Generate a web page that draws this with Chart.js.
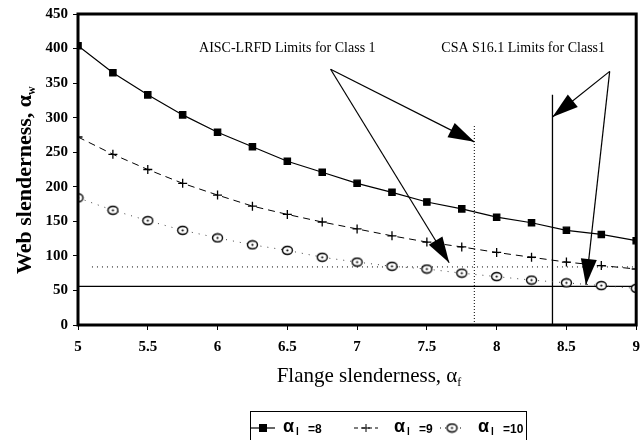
<!DOCTYPE html>
<html>
<head>
<meta charset="utf-8">
<script src="https://cdn.jsdelivr.net/npm/chart.js@4.4.1/dist/chart.umd.min.js"></script>
<style>
  html, body { margin: 0; padding: 0; background: #fff; }
  #wrap { width: 642px; height: 440px; }
</style>
</head>
<body>
<div id="wrap"><canvas id="slenderChart" width="642" height="440"></canvas></div>
<script>
// flange slenderness (x) and web slenderness limits for each alpha_l
const flangeSlenderness = [5, 5.25, 5.5, 5.75, 6, 6.25, 6.5, 6.75, 7, 7.25, 7.5, 7.75, 8, 8.25, 8.5, 8.75, 9];
const webAlpha8  = [404, 365, 333, 304, 279, 258, 237, 221, 205, 192, 178, 168, 156, 148, 137, 131, 122];
const webAlpha9  = [272, 247, 225, 205, 188, 172, 160, 149, 139, 129, 120, 113, 105, 98, 91, 86, 81];
const webAlpha10 = [184, 166, 151, 137, 126, 116, 108, 98, 91, 85, 81, 75, 70, 65, 61, 57, 53];
const seriesNames = ["8", "9", "10"];

// code limit lines (data units)
const webLimitSolid = 56;
const webLimitDotted = 84;
const aiscFlangeLimit = [7.84, 289];   // x, top y
const csaFlangeLimit = [8.4, 333];

// callouts: [fromX, fromY, toX, toY]
const aiscArrows = [[6.81, 370, 7.84, 265], [6.81, 370, 7.66, 90]];
const csaArrows = [[8.81, 367, 8.4, 301], [8.81, 367, 8.64, 58]];
const notes = [
  { text: "AISC-LRFD Limits for Class 1", x: 6.5, y: 401 },
  { text: "CSA S16.1 Limits for Class1", x: 8.19, y: 401 }
];

function pts(ys) { return flangeSlenderness.map((f, i) => ({ x: f, y: ys[i] })); }

function circleDot() {
  const c = document.createElement("canvas");
  c.width = 13; c.height = 11;
  const g = c.getContext("2d");
  g.fillStyle = "#fff"; g.strokeStyle = "#000"; g.lineWidth = 1.4;
  g.beginPath(); g.ellipse(6.5, 5.5, 5, 4, 0, 0, Math.PI * 2); g.fill(); g.stroke();
  g.fillStyle = "#000"; g.beginPath(); g.arc(6.5, 5.5, 1.1, 0, Math.PI * 2); g.fill();
  return c;
}
const circleImg = circleDot();

function refLine(data, dash, width) {
  return { data, borderColor: "#000", borderWidth: width || 1, borderDash: dash || [], pointRadius: 0, fill: false };
}

const datasets = [
  { data: pts(webAlpha8), borderColor: "#000", borderWidth: 1.2, pointStyle: "rect", pointRadius: 4.5,
    pointBackgroundColor: "#000", pointBorderColor: "#000", fill: false },
  { data: pts(webAlpha9), borderColor: "#000", borderWidth: 1, borderDash: [7, 5], pointStyle: "cross", pointRadius: 4.5,
    pointBorderColor: "#000", pointBorderWidth: 1.3, fill: false },
  { data: pts(webAlpha10), borderColor: "#444", borderWidth: 1, borderDash: [1, 6], pointStyle: circleImg,
    fill: false },
  refLine([{ x: 5, y: webLimitSolid }, { x: 9, y: webLimitSolid }], [], 1.2),
  refLine([{ x: 5.1, y: webLimitDotted }, { x: 9, y: webLimitDotted }], [1, 4], 1),
  refLine([{ x: aiscFlangeLimit[0], y: 0 }, { x: aiscFlangeLimit[0], y: aiscFlangeLimit[1] }], [1, 2], 1),
  refLine([{ x: csaFlangeLimit[0], y: 0 }, { x: csaFlangeLimit[0], y: csaFlangeLimit[1] }], [], 1.3)
];
aiscArrows.concat(csaArrows).forEach(a => {
  const ds = refLine([{ x: a[0], y: a[1] }, { x: a[2], y: a[3] }], [], 1.2);
  ds.arrow = true;
  datasets.push(ds);
});

const arrowHeads = {
  id: "arrowHeads",
  afterDatasetsDraw(chart) {
    const { ctx, scales: { x, y } } = chart;
    ctx.save();
    ctx.fillStyle = "#000";
    chart.data.datasets.forEach(ds => {
      if (!ds.arrow) return;
      const x0 = x.getPixelForValue(ds.data[0].x), y0 = y.getPixelForValue(ds.data[0].y);
      const x1 = x.getPixelForValue(ds.data[1].x), y1 = y.getPixelForValue(ds.data[1].y);
      ctx.save();
      ctx.translate(x1, y1);
      ctx.rotate(Math.atan2(y1 - y0, x1 - x0));
      ctx.beginPath(); ctx.moveTo(0, 0); ctx.lineTo(-26, -8); ctx.lineTo(-26, 8); ctx.closePath(); ctx.fill();
      ctx.restore();
    });
    ctx.restore();
  }
};

const decorations = {
  id: "decorations",
  afterDraw(chart) {
    const { ctx, chartArea: a, scales: { x, y } } = chart;
    ctx.save();
    // frame
    ctx.strokeStyle = "#000"; ctx.lineWidth = 3;
    ctx.strokeRect(a.left, a.top, a.right - a.left, a.bottom - a.top);

    // notes
    ctx.fillStyle = "#000";
    ctx.font = "14px 'Liberation Serif'";
    ctx.textAlign = "center"; ctx.textBaseline = "middle";
    notes.forEach(n => ctx.fillText(n.text, x.getPixelForValue(n.x), y.getPixelForValue(n.y)));

    // x title
    const xt = "Flange slenderness, ";
    ctx.font = "21px 'Liberation Serif'";
    ctx.textAlign = "left"; ctx.textBaseline = "alphabetic";
    let w = ctx.measureText(xt + "α").width + 6;
    let sx = 370 - w / 2;
    ctx.fillText(xt + "α", sx, 382);
    ctx.font = "12px 'Liberation Serif'";
    ctx.fillText("f", sx + w - 6, 386);

    // y title
    ctx.save();
    ctx.translate(31, 180);
    ctx.rotate(-Math.PI / 2);
    const yt = "Web slenderness, ";
    ctx.font = "bold 22px 'Liberation Serif'";
    w = ctx.measureText(yt + "α").width + 9;
    ctx.fillText(yt + "α", -w / 2, 0);
    ctx.font = "bold 12px 'Liberation Serif'";
    ctx.fillText("w", -w / 2 + w - 9, 4);
    ctx.restore();

    // legend
    ctx.lineWidth = 1;
    ctx.strokeRect(250.5, 411.5, 276, 40);
    const items = [[263, 283], [366, 394], [452, 478]];
    const cy = 428;
    items.forEach((it, i) => {
      const cx = it[0];
      ctx.save();
      ctx.lineWidth = 1.2;
      if (i === 1) ctx.setLineDash([4, 3]);
      if (i === 2) ctx.setLineDash([1, 4]);
      ctx.beginPath(); ctx.moveTo(cx - 12, cy); ctx.lineTo(cx + 12, cy); ctx.stroke();
      ctx.restore();
      if (i === 0) ctx.fillRect(cx - 4, cy - 4, 8, 8);
      if (i === 1) { ctx.beginPath(); ctx.moveTo(cx - 4, cy); ctx.lineTo(cx + 4, cy); ctx.moveTo(cx, cy - 4); ctx.lineTo(cx, cy + 4); ctx.stroke(); }
      if (i === 2) ctx.drawImage(circleImg, cx - 6.5, cy - 5.5);
      ctx.font = "bold 18px 'Liberation Sans'";
      ctx.fillText("α", it[1], cy + 4);
      ctx.font = "bold 10px 'Liberation Sans'";
      ctx.fillText("l", it[1] + 13, cy + 7);
      ctx.font = "bold 12px 'Liberation Sans'";
      ctx.fillText("=" + seriesNames[i], it[1] + 25, cy + 5);
    });
    ctx.restore();
  }
};

const tickFont = { family: "'Liberation Serif'", size: 15, weight: "bold" };

new Chart(document.getElementById("slenderChart"), {
  type: "line",
  data: { datasets },
  options: {
    responsive: false,
    animation: false,
    layout: { padding: { top: 14, right: 5, left: 0, bottom: 0 } },
    plugins: { legend: { display: false }, tooltip: { enabled: false } },
    scales: {
      x: {
        type: "linear", min: 5, max: 9,
        ticks: { stepSize: 0.5, color: "#000", font: tickFont, padding: 8, maxRotation: 0, autoSkip: false,
                 callback: v => String(v) },
        grid: { drawOnChartArea: false, color: "#000", tickLength: 5 },
        border: { display: false },
        afterFit(s) { s.height = 115; s.paddingLeft = 0; s.paddingRight = 0; }
      },
      y: {
        min: 0, max: 450,
        ticks: { stepSize: 50, color: "#000", font: tickFont, padding: 5 },
        grid: { drawOnChartArea: false, color: "#000", tickLength: 5 },
        border: { display: false },
        afterFit(s) { s.width = 78; s.paddingTop = 0; s.paddingBottom = 0; }
      }
    }
  },
  plugins: [arrowHeads, decorations]
});
</script>
</body>
</html>
